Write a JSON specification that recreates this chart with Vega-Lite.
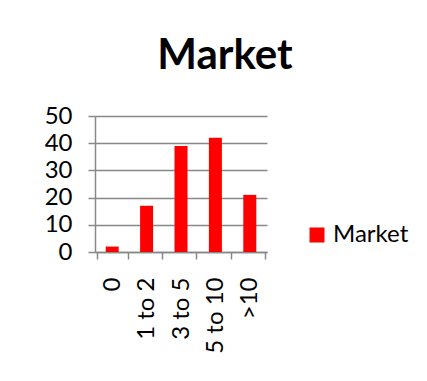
{
  "$schema": "https://vega.github.io/schema/vega-lite/v6.json",
  "autosize": "none",
  "width": 172,
  "height": 136,
  "padding": {"left": 95, "top": 116, "right": 160, "bottom": 129},
  "background": "white",
  "data": {"values": [
    {"category": "0", "value": 2, "series": "Market"},
    {"category": "1 to 2", "value": 17, "series": "Market"},
    {"category": "3 to 5", "value": 39, "series": "Market"},
    {"category": "5 to 10", "value": 42, "series": "Market"},
    {"category": ">10", "value": 21, "series": "Market"}
  ]},
  "title": {"text": "Market", "fontSize": 42, "font": "Lato", "fontWeight": "bold", "color": "black", "anchor": "middle", "dx": 44, "offset": 26},
  "mark": {"type": "bar", "color": "#ff0000", "width": {"band": 0.42}},
  "encoding": {
    "x": {"field": "category", "type": "nominal", "sort": null, "title": null,
      "axis": {"labelAngle": -90, "labelFont": "Lato", "labelFontSize": 24, "labelColor": "black", "tickBand": "extent", "tickSize": 7, "tickColor": "#888888", "tickWidth": 1.5, "domainColor": "#888888", "domainWidth": 1.5, "labelPadding": 18, "labelAlign": "right", "labelBaseline": "middle"}},
    "y": {"field": "value", "type": "quantitative", "title": null, "scale": {"domain": [0, 50]},
      "axis": {"values": [0, 10, 20, 30, 40, 50], "labelFont": "Lato", "labelFontSize": 24, "labelColor": "black", "tickSize": 7, "tickColor": "#888888", "tickWidth": 1.5, "gridColor": "#888888", "gridWidth": 1.5, "domainColor": "#888888", "domainWidth": 1.5, "labelPadding": 16}},
    "color": {"field": "series", "type": "nominal", "scale": {"range": ["#ff0000"]}, "title": null,
      "legend": {"orient": "none", "legendX": 210, "legendY": 107, "symbolType": "square", "symbolSize": 225, "symbolStrokeWidth": 0, "labelFont": "Lato", "labelFontSize": 24, "labelColor": "black", "labelOffset": 4}}
  },
  "config": {"view": {"stroke": null}}
}
